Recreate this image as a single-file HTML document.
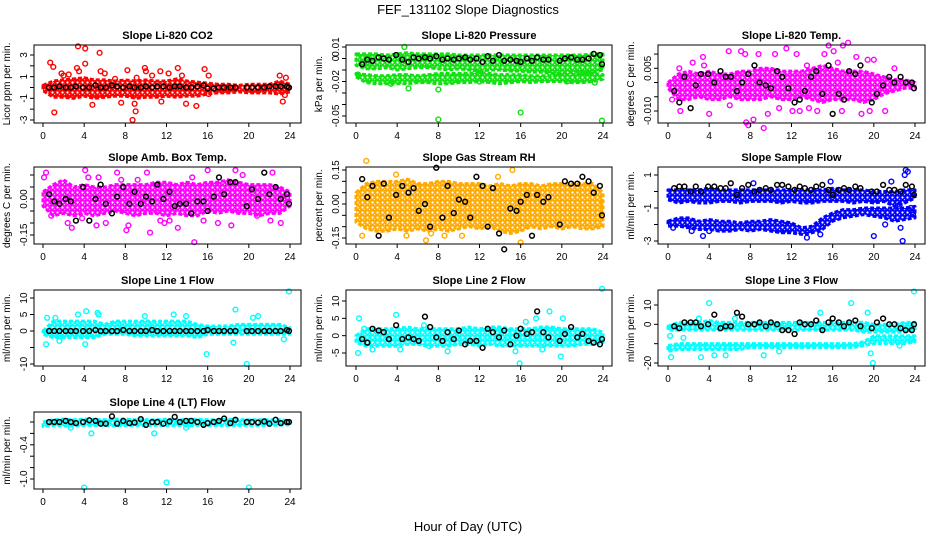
<!DOCTYPE html>
<html><head><meta charset="utf-8"><style>
body{margin:0;background:#fff}
svg{display:block;font-family:"Liberation Sans",sans-serif}
</style></head><body>
<svg id="chart" width="936" height="540" viewBox="0 0 936 540" xmlns="http://www.w3.org/2000/svg">
<defs id="defs"></defs>
<text x="468" y="14" text-anchor="middle" font-size="13">FEF_131102  Slope Diagnostics</text>
<text x="468" y="531" text-anchor="middle" font-size="13">Hour of Day (UTC)</text>
</svg>
<script>
const hours=[0,1,2,3,4,5,6,7,8,9,10,11,12,13,14,15,16,17,18,19,20,21,22,23,24];
const blackHours=[0.6,1.1,1.6,2.2,2.7,3.2,3.9,4.5,5.1,5.6,6.1,6.7,7.2,7.8,8.4,8.9,9.5,10.0,10.6,11.1,11.7,12.3,12.8,13.3,13.9,14.4,15.0,15.6,16.0,16.6,17.1,17.6,18.2,18.7,19.8,20.3,20.9,21.5,22.0,22.6,23.1,23.7,23.9];
const xTicks=[0,4,8,12,16,20,24];

const p1Lo=[-0.3,-0.9,-0.9,-1.0,-0.8,-1.0,-0.9,-0.8,-0.8,-1.0,-0.9,-0.9,-0.8,-0.9,-0.8,-0.8,-0.6,-0.5,-0.5,-0.4,-0.5,-0.5,-0.5,-0.6,-0.4];
const p1Hi=[0.2,0.6,0.7,0.8,0.9,0.7,0.7,0.6,0.7,0.6,0.7,0.6,0.6,0.8,0.6,0.5,0.4,0.3,0.3,0.2,0.3,0.3,0.3,0.6,0.3];
const p1OutX=[0.7,1.0,1.1,1.8,2.0,2.5,3.3,3.4,3.5,4.1,4.1,4.8,5.5,5.6,6.0,7.0,7.6,8.2,8.7,8.9,9.0,9.1,9.9,10.0,10.6,11.4,11.5,12.2,13.1,13.5,13.9,14.9,15.7,16.1,16.1,23.0,23.3,23.5,23.6];
const p1OutY=[2.3,1.9,-2.3,1.3,1.1,1.2,1.8,3.8,1.5,3.6,2.2,-1.6,3.2,1.5,1.3,0.8,-1.4,1.6,-3.0,-1.5,-2.2,0.9,1.8,1.5,1.1,1.5,-1.3,1.3,1.8,1.1,-1.5,-1.7,1.7,1.1,-0.6,1.1,-1.3,-0.7,0.9];
const p1Black=[0,0,0.1,0,0,0.1,0,0,0.2,0,0,0.2,0.1,0,0.1,0,0,0.1,0,0.1,0.1,0,0.1,0.1,0,0,0.1,0.2,-0.1,-0.1,0,0,0,0,0,0,0,0,0.1,0.1,0.1,0.1,0];
const p1TickVals=[3,2,1,0,-1,-2,-3];
const p1TickLabels=["3","","1","","-1","","-3"];

const p2AHi=[0.004,0.004,0.004,0.003,0.004,0.005,0.004,0.004,0.004,0.004,0.003,0.003,0.003,0.003,0.003,0.003,0.003,0.003,0.003,0.003,0.003,0.003,0.003,0.004,0.004];
const p2ALo=[-0.006,-0.009,-0.009,-0.008,-0.010,-0.009,-0.008,-0.008,-0.009,-0.010,-0.009,-0.010,-0.011,-0.010,-0.010,-0.011,-0.011,-0.012,-0.012,-0.013,-0.013,-0.012,-0.012,-0.012,-0.010];
const p2BHi=[-0.013,-0.014,-0.015,-0.015,-0.014,-0.014,-0.015,-0.014,-0.013,-0.013,-0.013,-0.013,-0.012,-0.013,-0.014,-0.014,-0.014,-0.015,-0.015,-0.015,-0.014,-0.014,-0.013,-0.013,-0.014];
const p2BLo=[-0.016,-0.021,-0.022,-0.022,-0.022,-0.022,-0.021,-0.021,-0.022,-0.022,-0.021,-0.021,-0.020,-0.021,-0.022,-0.021,-0.020,-0.021,-0.020,-0.020,-0.020,-0.021,-0.021,-0.020,-0.018];
const p2OutX=[0.2,4.7,5.1,8.0,8.0,16.0,23.9,23.2,1.2,12.0,3.4,20.5];
const p2OutY=[-0.014,0.010,-0.026,-0.053,-0.027,-0.047,-0.054,-0.021,-0.003,-0.020,-0.022,-0.020];
const p2Black=[-0.005,-0.001,-0.002,0.001,0.000,-0.001,0.003,-0.001,-0.003,0.001,0.000,0.001,0.000,0.002,-0.001,0.000,-0.001,0.000,0.001,-0.001,0.000,-0.003,0.002,-0.002,0.003,-0.002,-0.001,-0.002,-0.003,0.000,-0.002,0.001,-0.001,-0.001,-0.002,0.000,0.001,-0.001,-0.001,0.000,0.004,0.003,-0.005];
const p2TickVals=[0.01,0,-0.01,-0.02,-0.03,-0.04,-0.05];
const p2TickLabels=["0.01","0","","-0.02","","","-0.05"];

const p3Hi=[0.000,0.003,0.004,0.003,0.004,0.003,0.003,0.004,0.004,0.005,0.005,0.004,0.004,0.004,0.005,0.006,0.005,0.004,0.004,0.004,0.003,0.002,0.001,0.001,0.000];
const p3Lo=[-0.002,-0.006,-0.006,-0.005,-0.006,-0.006,-0.005,-0.006,-0.006,-0.006,-0.005,-0.006,-0.006,-0.005,-0.006,-0.007,-0.006,-0.006,-0.006,-0.007,-0.006,-0.004,-0.003,-0.002,-0.002];
const p3OutX=[0.4,1.2,2.4,3.4,3.5,5.9,7.1,7.5,7.6,7.8,8.3,8.8,9.3,9.7,10.4,11.5,12.5,12.8,13.5,14.5,15.2,15.6,16.1,16.5,17.0,17.5,18.3,19.4,19.6,20.0,21.1,1.1,4.0,6.0,10.8,12.1,13.7,16.9,18.8,22.0];
const p3OutY=[-0.006,-0.010,0.007,0.009,0.006,0.011,0.011,0.010,-0.014,-0.015,-0.013,0.010,-0.016,-0.011,0.010,0.012,0.010,-0.010,0.006,-0.010,0.010,0.013,0.011,0.007,0.013,0.014,0.009,0.008,-0.010,0.008,-0.010,0.005,-0.011,-0.008,-0.009,-0.010,-0.009,-0.010,-0.011,0.005];
const p3Black=[-0.003,-0.007,0.002,-0.009,-0.001,0.003,0.003,0.000,0.004,0.002,0.002,-0.003,0.000,0.003,0.006,0.000,-0.001,-0.002,0.004,0.002,-0.002,-0.007,-0.006,-0.003,0.002,0.004,-0.004,0.006,-0.011,-0.004,-0.006,0.004,0.003,0.006,-0.007,-0.004,-0.001,0.002,0.000,0.002,0.000,0.000,-0.002];
const p3TickVals=[0.01,0.005,0,-0.005,-0.01];
const p3TickLabels=["","0.005","","","-0.010"];

const p4Hi=[0.03,0.06,0.08,0.05,0.06,0.05,0.05,0.06,0.06,0.06,0.06,0.07,0.07,0.06,0.07,0.06,0.07,0.07,0.08,0.07,0.06,0.06,0.06,0.05,0.03];
const p4Lo=[-0.03,-0.07,-0.06,-0.07,-0.06,-0.07,-0.06,-0.05,-0.06,-0.07,-0.06,-0.06,-0.07,-0.06,-0.07,-0.07,-0.05,-0.06,-0.05,-0.06,-0.06,-0.07,-0.06,-0.06,-0.03];
const p4OutX=[0.1,0.3,0.8,2.4,2.8,4.1,4.4,5.2,5.4,6.1,7.2,8.1,8.3,9.2,10.4,10.1,11.8,12.3,13.1,14.7,14.5,16.0,17.0,18.3,18.7,19.4,20.8,22.3,22.1,23.1,7.6,11.4,3.8,15.6];
const p4OutY=[0.09,0.11,-0.07,-0.10,-0.12,0.12,0.09,-0.11,0.09,-0.10,0.11,-0.13,-0.11,0.08,-0.14,0.11,-0.10,-0.09,-0.12,-0.18,0.09,0.12,-0.10,-0.11,0.12,0.10,-0.07,0.11,-0.09,-0.10,0.08,-0.09,-0.08,-0.09];
const p4Black=[0.02,-0.01,-0.02,0.00,-0.01,-0.09,0.05,-0.09,0.00,0.06,-0.02,-0.06,0.01,0.05,-0.02,0.03,-0.02,0.01,-0.01,0.06,0.00,0.03,-0.03,-0.02,-0.02,-0.06,-0.01,-0.01,-0.05,0.01,0.09,0.02,0.07,0.07,-0.03,0.04,0.00,0.11,0.02,0.05,0.00,0.02,-0.02];
const p4TickVals=[0.10,0.05,0,-0.05,-0.10,-0.15];
const p4TickLabels=["","","0.00","","","-0.15"];

const p5Hi=[0.05,0.09,0.10,0.10,0.10,0.11,0.09,0.09,0.10,0.10,0.09,0.09,0.09,0.08,0.09,0.08,0.09,0.09,0.08,0.09,0.09,0.09,0.09,0.09,0.05];
const p5Lo=[-0.08,-0.11,-0.12,-0.12,-0.11,-0.12,-0.11,-0.12,-0.11,-0.12,-0.11,-0.10,-0.11,-0.10,-0.12,-0.13,-0.12,-0.10,-0.11,-0.10,-0.11,-0.10,-0.11,-0.11,-0.10];
const p5OutX=[1.0,3.9,8.6,7.3,4.9,15.2,16.0,10.3,13.8,6.8,0.6];
const p5OutY=[0.19,0.13,-0.14,-0.13,-0.14,0.15,-0.17,-0.14,0.12,-0.16,-0.14];
const p5Black=[0.11,0.03,0.08,-0.14,0.09,-0.06,0.04,0.08,0.05,0.07,-0.03,0.00,-0.10,0.16,-0.06,0.08,-0.04,0.02,0.01,-0.06,0.12,0.08,-0.10,0.07,-0.13,-0.20,-0.02,-0.03,0.01,0.04,-0.14,0.04,0.01,0.03,-0.09,0.10,0.09,0.09,0.12,0.10,0.05,0.08,-0.05];
const p5TickVals=[0.15,0.10,0.05,0,-0.05,-0.10,-0.15];
const p5TickLabels=["0.15","","","0.00","","","-0.15"];

const p6AHi=[0.1,0.1,0.1,0.1,0.2,0.1,0.1,0.1,0.1,0.1,0.1,0.1,0.1,0.1,0.1,0.1,0.2,0.1,0.1,0.1,0.0,0.0,0.0,0.1,0.1];
const p6ALo=[-0.5,-0.7,-0.6,-0.7,-0.7,-0.6,-0.6,-0.7,-0.6,-0.6,-0.6,-0.7,-0.6,-0.7,-0.7,-0.6,-0.6,-0.6,-0.7,-0.6,-0.7,-0.6,-0.9,-0.7,-0.4];
const p6BHi=[-1.8,-1.6,-1.6,-1.8,-1.7,-1.8,-1.8,-1.9,-1.8,-1.8,-1.7,-1.8,-1.9,-2.2,-2.1,-1.6,-1.3,-1.1,-1.1,-1.0,-1.0,-1.0,-1.0,-1.0,-0.9];
const p6BLo=[-2.1,-2.1,-2.2,-2.3,-2.3,-2.4,-2.4,-2.3,-2.4,-2.3,-2.4,-2.5,-2.5,-2.6,-2.5,-2.3,-1.8,-1.6,-1.5,-1.4,-1.5,-1.6,-1.8,-1.7,-1.6];
const p6OutX=[0.5,2.3,3.4,4.0,8.3,13.5,14.8,15.8,20.0,21.7,22.8,23.0,23.1,23.3,22.6,23.6,23.8,21.1,22.5];
const p6OutY=[-2.2,-2.4,-2.7,-2.4,0.5,-2.8,-2.6,0.6,-2.7,0.6,-3.0,1.0,1.3,1.2,-2.2,-1.0,-1.4,-2.0,-0.8];
const p6Black=[0.2,0.3,0.3,0.0,0.3,0.0,0.3,0.3,0.2,0.2,0.5,-0.2,0.2,0.4,0.0,0.1,0.2,0.1,0.4,0.4,0.3,0.1,0.3,0.2,0.1,0.3,0.4,0.1,-0.2,0.1,0.2,0.1,0.3,0.2,0.0,0.0,0.4,0.1,0.1,0.0,0.4,0.3,-0.2];
const p6TickVals=[1,0,-1,-2,-3];
const p6TickLabels=["1","","-1","","-3"];

const p7Hi=[0,3,3,3,3,3,2,3,3,3,3,3,3,3,3,2,1.5,1.5,1.5,2,2,2,2,2,1];
const p7Lo=[-1,-2,-2,-2,-2,-2,-1,-1,-1,-1.5,-1.5,-1.5,-1.5,-1.5,-1.5,-2,-1,-1,-1,-1,-1,-1,-1,-1,-1];
const p7OutX=[0.4,0.3,1.2,1.6,3.4,4.2,4.1,5.3,9.9,12.7,15.9,18.7,18.5,19.8,20.4,20.9,23.9,23.4,5.4,13.9];
const p7OutY=[4,-4,4,-3,5,6,-4,5.5,4.5,5,-7,6.5,-3.5,-10,4,4.5,12,-2.5,5,4.5];
const p7Black=[0,0,0,0,0,0,0,0,0.3,0,0,0,0,0.3,0,0,0,0,0.3,0,0,0,0,0,0,0,0,0,0.3,0,0,0,0,0,0,0,0,0,0,0,0,0.3,0];
const p7TickVals=[10,5,0,-5,-10];
const p7TickLabels=["10","5","0","","-10"];

const p8Hi=[0,2,2,2,2,2.5,2,2,2,2,2,2.5,2,2.5,2.5,2,2,2,2.5,2.5,2,2,2,2,1];
const p8Lo=[-2,-3,-3,-3,-3,-2.5,-2.5,-3,-3,-3,-2.5,-2.5,-3,-2.5,-3,-3,-3,-3,-3,-3,-3,-3,-2.5,-2.5,-2];
const p8OutX=[0.3,0.2,0.8,3.9,4.3,6.6,7.1,8.9,15.9,16.5,17.5,18.8,19.9,20.1,23.9,15.5,1.6,18.1];
const p8OutY=[5,-5,2,6,-4,3,-3,-4.5,-8,4,5,7,-6,5,13.5,-4.5,-4,-4];
const p8Black=[-1,-2,2,1.5,1,-1,3,-1,-0.5,-1,-1.5,5.5,2.5,-0.5,-1.5,1,-1,1.5,-2.5,-1.5,-1.5,-3.5,2,1,-0.5,1.5,-2.5,0,2,0.5,1,7,1,-0.5,-1.5,0.5,2.5,-0.5,0.5,-1.5,-2,-2.5,-1];
const p8TickVals=[10,5,0,-5];
const p8TickLabels=["10","5","0","-5"];

const p9AHi=[-1,1,1,1,2,1,1,1,1,1,1,1,1,1,1,1,1,1,1,1,0,0,0,1,1];
const p9ALo=[-3,-3,-3,-3,-3,-3,-3,-3,-3,-3,-3,-3,-3,-3,-3,-3,-3,-3,-3,-4,-4,-4,-4,-4,-3];
const p9BHi=[-11,-10,-10,-10,-10,-10,-10,-10,-10,-10,-10,-10,-10,-10,-10,-10,-10,-10,-10,-9,-6,-6,-6,-6,-6];
const p9BLo=[-14,-13,-13,-13,-13,-13,-13,-13,-12,-12,-12,-12,-12,-12,-12,-12,-12,-12,-12,-11,-10,-10,-10,-10,-9];
const p9OutX=[0.2,0.3,3.2,3.0,4.0,4.5,5.6,9.3,14.8,17.8,19.4,19.7,19.9,22.5,23.7,23.9,1.5,6.5,10.8];
const p9OutY=[-6,-17,-17,3,11,-16,-16,-16,6,11,6,-15,-20,-11,-8,17,-7,3,-14];
const p9Black=[-1,-2,1,1,1,-1,0,5,-2,-1,-1,6,4,0,0,1,-1,1,0,-3,-3,-5,1,0,0,2,-3,1,3,1,-1,1,2,-1,-2,1,3,0,0,-2,-3,-3,0];
const p9TickVals=[10,0,-10,-20];
const p9TickLabels=["10","0","","-20"];

const p10Hi=[0.0,0.04,0.05,0.04,0.05,0.04,0.04,0.05,0.05,0.04,0.04,0.04,0.05,0.04,0.04,0.05,0.04,0.04,0.05,0.04,0.04,0.04,0.04,0.04,0.02];
const p10Lo=[-0.08,-0.06,-0.07,-0.07,-0.06,-0.06,-0.06,-0.07,-0.06,-0.06,-0.06,-0.06,-0.06,-0.06,-0.07,-0.06,-0.06,-0.06,-0.06,-0.06,-0.06,-0.06,-0.06,-0.05,-0.05];
const p10OutX=[4.0,12.0,20.0,4.7,10.8,13.9,2.7];
const p10OutY=[-1.15,-1.06,-1.15,-0.2,-0.2,-0.1,-0.1];
const p10Black=[0,0,0,0.02,0,-0.02,0,0.03,0.02,-0.03,-0.03,0.1,-0.03,0.02,-0.02,-0.01,0.05,-0.05,0,0,-0.03,0.01,0.09,0,0.02,0.02,0,-0.05,-0.02,0,0.02,0.06,-0.02,0.04,0,0,-0.01,0.01,-0.03,0.04,-0.02,0,0];
const p10TickVals=[0,-0.2,-0.4,-0.6,-0.8,-1.0];
const p10TickLabels=["","","-0.4","","","-1.0"];

const NS="http://www.w3.org/2000/svg";
const svg=document.getElementById('chart');
const defs=document.getElementById('defs');
const cols=[{b:[34,301],x:[43,290]},{b:[346,612],x:[356,603]},{b:[658,925],x:[668,915]}];
const rows=[[45,123],[167,244],[290,366],[412,489]];
const panels=[
 {c:0,r:0,slug:'co2',title:'Slope Li-820 CO2',ylab:'Licor ppm per min.',yref:[3,55,-3,120],col:'#ff0000',bands:[[p1Hi,p1Lo]],ox:p1OutX,oy:p1OutY,bk:p1Black,tv:p1TickVals,tl:p1TickLabels},
 {c:1,r:0,slug:'pressure',title:'Slope Li-820 Pressure',ylab:'kPa per min.',yref:[0.01,47,-0.05,116],col:'#11e011',bands:[[p2AHi,p2ALo],[p2BHi,p2BLo]],ox:p2OutX,oy:p2OutY,bk:p2Black,tv:p2TickVals,tl:p2TickLabels},
 {c:2,r:0,slug:'li820-temp',title:'Slope Li-820 Temp.',ylab:'degrees C per min.',yref:[0.005,68.3,-0.01,111],col:'#ff00ff',bands:[[p3Hi,p3Lo]],ox:p3OutX,oy:p3OutY,bk:p3Black,tv:p3TickVals,tl:p3TickLabels},
 {c:0,r:1,slug:'amb-box-temp',title:'Slope Amb. Box Temp.',ylab:'degrees C per min.',yref:[0,199,-0.15,235],col:'#ff00ff',bands:[[p4Hi,p4Lo]],ox:p4OutX,oy:p4OutY,bk:p4Black,tv:p4TickVals,tl:p4TickLabels},
 {c:1,r:1,slug:'gas-stream-rh',title:'Slope Gas Stream RH',ylab:'percent per min.',yref:[0.15,170,-0.15,238],col:'#ffaa00',bands:[[p5Hi,p5Lo]],ox:p5OutX,oy:p5OutY,bk:p5Black,tv:p5TickVals,tl:p5TickLabels},
 {c:2,r:1,slug:'sample-flow',title:'Slope Sample Flow',ylab:'ml/min per min.',yref:[1,175,-3,241],col:'#0000ff',bands:[[p6AHi,p6ALo],[p6BHi,p6BLo]],ox:p6OutX,oy:p6OutY,bk:p6Black,tv:p6TickVals,tl:p6TickLabels},
 {c:0,r:2,slug:'line1-flow',title:'Slope Line 1 Flow',ylab:'ml/min per min.',yref:[10,298,-10,364],col:'#00ffff',bands:[[p7Hi,p7Lo]],ox:p7OutX,oy:p7OutY,bk:p7Black,tv:p7TickVals,tl:p7TickLabels},
 {c:1,r:2,slug:'line2-flow',title:'Slope Line 2 Flow',ylab:'ml/min per min.',yref:[10,301,-5,353],col:'#00ffff',bands:[[p8Hi,p8Lo]],ox:p8OutX,oy:p8OutY,bk:p8Black,tv:p8TickVals,tl:p8TickLabels},
 {c:2,r:2,slug:'line3-flow',title:'Slope Line 3 Flow',ylab:'ml/min per min.',yref:[10,305,-20,363],col:'#00ffff',bands:[[p9AHi,p9ALo],[p9BHi,p9BLo]],ox:p9OutX,oy:p9OutY,bk:p9Black,tv:p9TickVals,tl:p9TickLabels},
 {c:0,r:3,slug:'line4-flow',title:'Slope Line 4 (LT) Flow',ylab:'ml/min per min.',yref:[0,422,-1,479],col:'#00ffff',bands:[[p10Hi,p10Lo]],ox:p10OutX,oy:p10OutY,bk:p10Black,tv:p10TickVals,tl:p10TickLabels}
];
function mk(tag,attrs,parent){const e=document.createElementNS(NS,tag);for(const k in attrs)e.setAttribute(k,attrs[k]);(parent||svg).appendChild(e);return e;}
panels.forEach((p,pi)=>{
  const C=cols[p.c],R=rows[p.r];
  const xs=h=>C.x[0]+(h/24)*(C.x[1]-C.x[0]);
  const ys=v=>p.yref[1]+(v-p.yref[0])*(p.yref[3]-p.yref[1])/(p.yref[2]-p.yref[0]);
  const pat=mk('pattern',{id:'pat'+pi,width:5,height:5,patternUnits:'userSpaceOnUse'},defs);
  mk('rect',{x:0,y:0,width:5,height:5,fill:'#fff'},pat);
  mk('circle',{cx:2.5,cy:2.5,r:1.9,fill:'none',stroke:p.col,'stroke-width':1.6},pat);
  mk('rect',{x:0,y:0,width:5,height:0.8,fill:p.col},pat);
  mk('rect',{x:0,y:0,width:0.8,height:5,fill:p.col},pat);
  const g=mk('g',{});
  
  
  const t=mk('text',{x:(C.b[0]+C.b[1])/2,y:R[0]-6,'text-anchor':'middle','font-size':'11','font-weight':'bold'},g);
  t.textContent=p.title;
  
  
  const yl=mk('text',{x:0,y:0,'text-anchor':'middle','font-size':'10',transform:`translate(${C.b[0]-24},${(R[0]+R[1])/2}) rotate(-90)`},g);
  yl.textContent=p.ylab;
  
  
  p.bands.forEach(([hi,lo])=>{
    const pts=hours.map((h,i)=>xs(h)+','+ys(hi[i])).concat(hours.map((h,i)=>xs(h)+','+ys(lo[i])).reverse());
    const b=mk('polygon',{points:pts.join(' '),fill:'url(#pat'+pi+')',stroke:p.col,'stroke-width':'3','stroke-linejoin':'round','stroke-dasharray':'4 2'},g);
    
    
  });
  p.ox.forEach((h,i)=>{
    const c=mk('circle',{cx:xs(h),cy:ys(p.oy[i]),r:2.4,fill:'none',stroke:p.col,'stroke-width':1.4},g);
    
    
  });
  p.bk.forEach((v,i)=>{
    const c=mk('circle',{cx:xs(blackHours[i]),cy:ys(v),r:2.4,fill:'none',stroke:'#000','stroke-width':1.5},g);
    
    
  });
  const box=mk('rect',{x:C.b[0],y:R[0],width:C.b[1]-C.b[0],height:R[1]-R[0],fill:'none',stroke:'#000','stroke-width':1},g);
  
  
  xTicks.forEach(h=>{
    mk('line',{x1:xs(h),x2:xs(h),y1:R[1],y2:R[1]+4,stroke:'#000'},g);
    const l=mk('text',{x:xs(h),y:R[1]+16,'text-anchor':'middle','font-size':'10'},g);
    l.textContent=h;
    
    
  });
  p.tv.forEach((v,i)=>{
    mk('line',{x1:C.b[0]-4,x2:C.b[0],y1:ys(v),y2:ys(v),stroke:'#000'},g);
    if(p.tl[i]){
      const l=mk('text',{x:0,y:0,'text-anchor':'middle','font-size':'10',transform:`translate(${C.b[0]-7},${ys(v)}) rotate(-90)`},g);
      l.textContent=p.tl[i];
      
      
    }
  });
});
</script>
</body></html>
